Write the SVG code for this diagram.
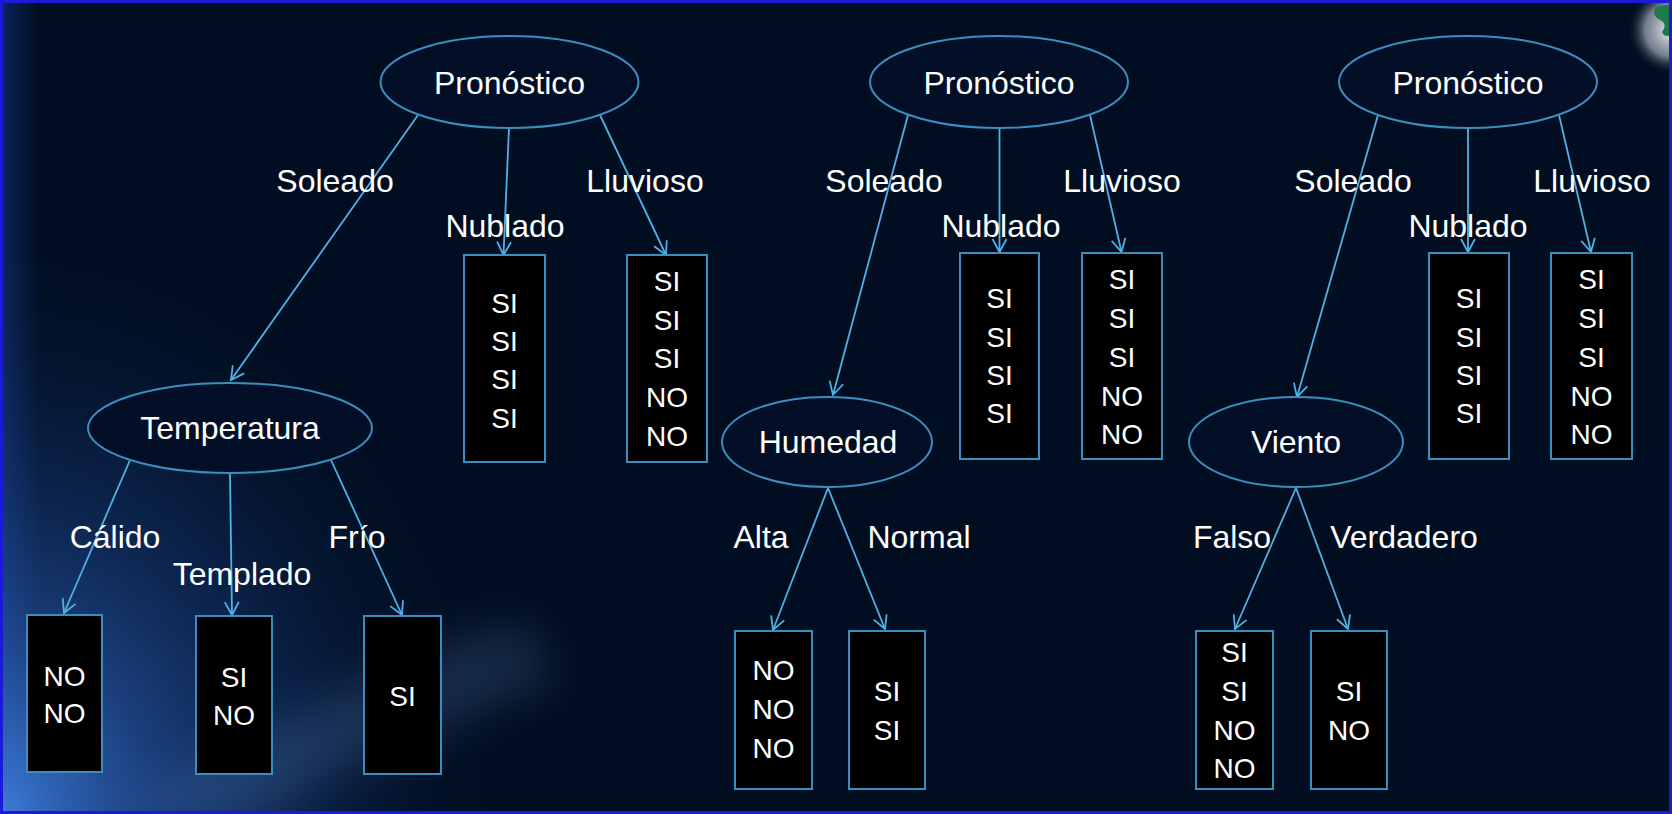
<svg xmlns="http://www.w3.org/2000/svg" width="1672" height="814" viewBox="0 0 1672 814">
<defs>
<style>
.lbl{font-family:"Liberation Sans",Arial,sans-serif;font-size:32px;fill:#ffffff;text-anchor:middle}
.bt{font-family:"Liberation Sans",Arial,sans-serif;font-size:28px;fill:#ffffff;text-anchor:middle}
.ell{fill:#020f26;stroke:#3b8fc0;stroke-width:2}
.box{fill:#000000;stroke:#3b8fc0;stroke-width:2}
.con line{stroke:#4fb2e6;stroke-width:1.8;marker-end:url(#arr)}
</style>
<marker id="arr" markerUnits="userSpaceOnUse" markerWidth="16" markerHeight="16" viewBox="0 0 16 16" refX="14" refY="8" orient="auto">
<path d="M1,1 L14,8 L1,15" fill="none" stroke="#4fb2e6" stroke-width="1.8"/>
</marker>
<radialGradient id="glow" cx="0" cy="814" r="1" gradientUnits="userSpaceOnUse" gradientTransform="translate(0 814) scale(520 600) translate(0 -814)">
<stop offset="0" stop-color="#3f7fe0" stop-opacity="0.95"/>
<stop offset="0.3" stop-color="#2c5fb8" stop-opacity="0.6"/>
<stop offset="0.65" stop-color="#173f82" stop-opacity="0.28"/>
<stop offset="1" stop-color="#0a2040" stop-opacity="0"/>
</radialGradient>
<filter id="blur" x="-50%" y="-50%" width="200%" height="200%"><feGaussianBlur stdDeviation="25"/></filter>
<radialGradient id="corner" cx="1672" cy="30" r="45" gradientUnits="userSpaceOnUse">
<stop offset="0" stop-color="#ffffff" stop-opacity="0.95"/>
<stop offset="0.6" stop-color="#c0c8d8" stop-opacity="0.6"/>
<stop offset="1" stop-color="#010d20" stop-opacity="0"/>
</radialGradient>
<linearGradient id="leftedge" x1="0" y1="0" x2="1" y2="0">
<stop offset="0" stop-color="#1a45a8" stop-opacity="0.45"/>
<stop offset="1" stop-color="#1a45a8" stop-opacity="0"/>
</linearGradient>
</defs>
<rect x="0" y="0" width="1672" height="814" fill="#010d20"/>
<rect x="0" y="0" width="40" height="814" fill="url(#leftedge)"/>
<rect x="0" y="200" width="560" height="614" fill="url(#glow)"/>
<path d="M120,814 Q300,700 520,620 L560,680 Q360,750 260,814 Z" fill="#6a9ad8" opacity="0.22" filter="url(#blur)"/>
<rect x="1620" y="0" width="52" height="80" fill="url(#corner)"/>
<path d="M1655,8 Q1665,3 1672,6 L1672,35 Q1664,38 1662,32 Q1668,24 1660,20 Q1652,16 1655,8 Z" fill="#1e7a4a"/>
<rect x="1.5" y="1.5" width="1669" height="811" fill="none" stroke="#1a1ad8" stroke-width="3"/>

<g id="connectors" class="con">
<line x1="418" y1="115" x2="231" y2="380"/>
<line x1="509" y1="128" x2="503.5" y2="255"/>
<line x1="600" y1="115" x2="666" y2="255"/>
<line x1="908" y1="115" x2="833" y2="395"/>
<line x1="999.5" y1="128" x2="999.5" y2="252"/>
<line x1="1090" y1="115" x2="1121.5" y2="252"/>
<line x1="1378" y1="115" x2="1297" y2="397"/>
<line x1="1468" y1="128" x2="1468" y2="252"/>
<line x1="1559" y1="115" x2="1591" y2="252"/>
<line x1="129.6" y1="461" x2="64" y2="613"/>
<line x1="230" y1="473" x2="232" y2="615"/>
<line x1="331" y1="460" x2="402" y2="615"/>
<line x1="828" y1="488" x2="773" y2="630"/>
<line x1="828" y1="488" x2="885" y2="629"/>
<line x1="1296" y1="488" x2="1235" y2="629"/>
<line x1="1296" y1="488" x2="1348" y2="629"/>
</g>

<g id="edge-labels">
<text class="lbl" x="335" y="192">Soleado</text>
<text class="lbl" x="505" y="237">Nublado</text>
<text class="lbl" x="645" y="192">Lluvioso</text>
<text class="lbl" x="884" y="192">Soleado</text>
<text class="lbl" x="1001" y="237">Nublado</text>
<text class="lbl" x="1122" y="192">Lluvioso</text>
<text class="lbl" x="1353" y="192">Soleado</text>
<text class="lbl" x="1468" y="237">Nublado</text>
<text class="lbl" x="1592" y="192">Lluvioso</text>
<text class="lbl" x="115" y="548">Cálido</text>
<text class="lbl" x="242" y="585">Templado</text>
<text class="lbl" x="357" y="548">Frío</text>
<text class="lbl" x="761" y="548">Alta</text>
<text class="lbl" x="919" y="548">Normal</text>
<text class="lbl" x="1232" y="548">Falso</text>
<text class="lbl" x="1404" y="548">Verdadero</text>
</g>

<g id="pronostico1"><ellipse class="ell" cx="509.5" cy="82" rx="129" ry="46"/><text class="lbl" x="509.5" y="94">Pronóstico</text></g>
<g id="pronostico2"><ellipse class="ell" cx="999" cy="82" rx="129" ry="46"/><text class="lbl" x="999" y="94">Pronóstico</text></g>
<g id="pronostico3"><ellipse class="ell" cx="1468" cy="82" rx="129" ry="46"/><text class="lbl" x="1468" y="94">Pronóstico</text></g>
<g id="temperatura"><ellipse class="ell" cx="230" cy="428" rx="142" ry="45"/><text class="lbl" x="230" y="439">Temperatura</text></g>
<g id="humedad"><ellipse class="ell" cx="827" cy="442" rx="105" ry="45"/><text class="lbl" x="828" y="453">Humedad</text></g>
<g id="viento"><ellipse class="ell" cx="1296" cy="442" rx="107" ry="45"/><text class="lbl" x="1296" y="453">Viento</text></g>

<g id="leaf-t1-nublado"><rect class="box" x="464" y="255" width="81" height="207"/>
<text class="bt" x="504.5" y="313">SI</text><text class="bt" x="504.5" y="351">SI</text><text class="bt" x="504.5" y="389">SI</text><text class="bt" x="504.5" y="428">SI</text></g>
<g id="leaf-t1-lluvioso"><rect class="box" x="627" y="255" width="80" height="207"/>
<text class="bt" x="667" y="291">SI</text><text class="bt" x="667" y="330">SI</text><text class="bt" x="667" y="368">SI</text><text class="bt" x="667" y="407">NO</text><text class="bt" x="667" y="446">NO</text></g>
<g id="leaf-t2-nublado"><rect class="box" x="960" y="253" width="79" height="206"/>
<text class="bt" x="999.5" y="308">SI</text><text class="bt" x="999.5" y="347">SI</text><text class="bt" x="999.5" y="385">SI</text><text class="bt" x="999.5" y="423">SI</text></g>
<g id="leaf-t2-lluvioso"><rect class="box" x="1082" y="253" width="80" height="206"/>
<text class="bt" x="1122" y="289">SI</text><text class="bt" x="1122" y="328">SI</text><text class="bt" x="1122" y="367">SI</text><text class="bt" x="1122" y="406">NO</text><text class="bt" x="1122" y="444">NO</text></g>
<g id="leaf-t3-nublado"><rect class="box" x="1429" y="253" width="80" height="206"/>
<text class="bt" x="1469" y="308">SI</text><text class="bt" x="1469" y="347">SI</text><text class="bt" x="1469" y="385">SI</text><text class="bt" x="1469" y="423">SI</text></g>
<g id="leaf-t3-lluvioso"><rect class="box" x="1551" y="253" width="81" height="206"/>
<text class="bt" x="1591.5" y="289">SI</text><text class="bt" x="1591.5" y="328">SI</text><text class="bt" x="1591.5" y="367">SI</text><text class="bt" x="1591.5" y="406">NO</text><text class="bt" x="1591.5" y="444">NO</text></g>
<g id="leaf-calido"><rect class="box" x="27" y="615" width="75" height="157"/>
<text class="bt" x="64.5" y="686">NO</text><text class="bt" x="64.5" y="723">NO</text></g>
<g id="leaf-templado"><rect class="box" x="196" y="616" width="76" height="158"/>
<text class="bt" x="234" y="687">SI</text><text class="bt" x="234" y="725">NO</text></g>
<g id="leaf-frio"><rect class="box" x="364" y="616" width="77" height="158"/>
<text class="bt" x="402.5" y="706">SI</text></g>
<g id="leaf-alta"><rect class="box" x="735" y="631" width="77" height="158"/>
<text class="bt" x="773.5" y="680">NO</text><text class="bt" x="773.5" y="719">NO</text><text class="bt" x="773.5" y="758">NO</text></g>
<g id="leaf-normal"><rect class="box" x="849" y="631" width="76" height="158"/>
<text class="bt" x="887" y="701">SI</text><text class="bt" x="887" y="740">SI</text></g>
<g id="leaf-falso"><rect class="box" x="1196" y="631" width="77" height="158"/>
<text class="bt" x="1234.5" y="662">SI</text><text class="bt" x="1234.5" y="701">SI</text><text class="bt" x="1234.5" y="740">NO</text><text class="bt" x="1234.5" y="778">NO</text></g>
<g id="leaf-verdadero"><rect class="box" x="1311" y="631" width="76" height="158"/>
<text class="bt" x="1349" y="701">SI</text><text class="bt" x="1349" y="740">NO</text></g>
</svg>
